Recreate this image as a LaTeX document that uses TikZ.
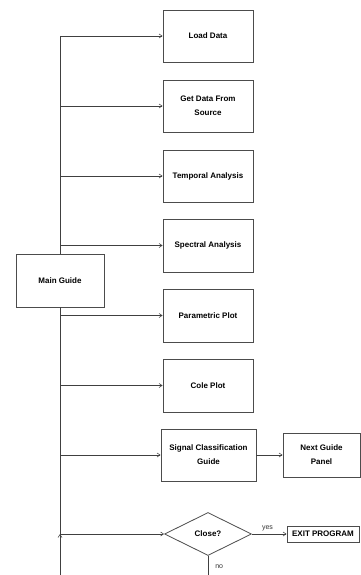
\documentclass[tikz,border=0pt]{standalone}
\usepackage{fontspec}
\setmainfont{Liberation Sans}
\usetikzlibrary{arrows.meta,shapes.geometric}
\begin{document}
\begin{tikzpicture}[x=1pt,y=-1pt,
  box/.style={draw=black!70,line width=0.8pt,fill=white,rectangle,inner sep=1pt,
    align=center,font=\fontsize{8}{14}\selectfont\bfseries},
  dec/.style={draw=black!70,line width=0.8pt,fill=white,diamond,aspect=2,inner sep=0pt,
    font=\fontsize{8}{10}\selectfont\bfseries},
  conn/.style={draw=black!75,line width=0.7pt},
  arr/.style={conn,-{Straight Barb[length=3pt,width=4pt,line width=0.6pt]}},
  lbl/.style={font=\fontsize{7}{8}\selectfont,text=black!80,inner sep=0pt}]
\useasboundingbox (0,0) rectangle (361,575);
\node[box,minimum width=88pt,minimum height=53pt] (main) at (60,280.5) {Main Guide};
\node[box,minimum width=90pt,minimum height=52pt] (load) at (208,36) {Load Data};
\node[box,minimum width=90pt,minimum height=52pt] (get) at (208,106) {Get Data From\\Source};
\node[box,minimum width=90pt,minimum height=52pt] (temp) at (208,176) {Temporal Analysis};
\node[box,minimum width=90pt,minimum height=53pt] (spec) at (208,245.5) {Spectral Analysis};
\node[box,minimum width=90pt,minimum height=53pt] (param) at (208,315.5) {Parametric Plot};
\node[box,minimum width=90pt,minimum height=53pt] (cole) at (208,385.5) {Cole Plot};
\node[box,minimum width=95pt,minimum height=52pt] (sig) at (208.5,455) {Signal Classification\\Guide};
\node[box,minimum width=77pt,minimum height=44pt] (next) at (321.5,455) {Next Guide\\Panel};
\node[dec,minimum width=87pt,minimum height=43pt] (close) at (208,534) {Close?};
\node[box,minimum width=72pt,minimum height=16pt] (exit) at (323,534) {EXIT PROGRAM};
\coordinate (top) at (60,36);
\coordinate (join) at (60,534);
\coordinate (bot) at (60,575);
\coordinate (nobot) at (208,575);
\draw[conn] (top) -- (main.north);
\draw[conn] (main.south) -- (join);
\draw[arr] (bot) -- (join);
\foreach \n in {load,get,temp,spec,param,cole,sig,close}
  \draw[arr] (main.center |- \n.west) -- (\n.west);
\draw[arr] (sig.east) -- (next.west);
\draw[arr] (close.east) -- node[lbl,above=3pt,pos=0.45] (yes) {yes} (exit.west);
\draw[conn] (close.south) -- node[lbl,right=7pt,pos=0.55] (no) {no} (nobot);
\end{tikzpicture}
\end{document}
